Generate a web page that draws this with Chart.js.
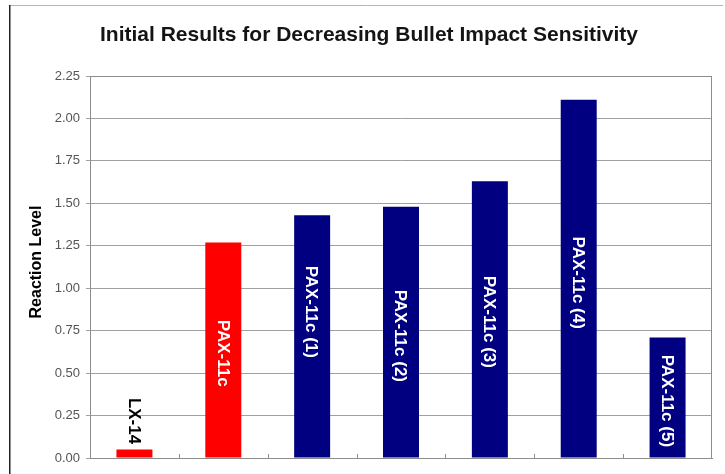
<!DOCTYPE html>
<html>
<head>
<meta charset="utf-8">
<script src="https://cdn.jsdelivr.net/npm/chart.js@4/dist/chart.umd.min.js"></script>
<style>
  html, body { margin: 0; padding: 0; background: #ffffff; }
  #c { display: block; }
</style>
</head>
<body>
<canvas id="c" width="725" height="474"></canvas>
<script>
// Formulations tested
const categories = ['LX-14', 'PAX-11c', 'PAX-11c (1)', 'PAX-11c (2)', 'PAX-11c (3)', 'PAX-11c (4)', 'PAX-11c (5)'];
// Measured reaction level for each formulation
const reactionLevel = [0.05, 1.27, 1.43, 1.48, 1.63, 2.11, 0.71];
// Value-axis tick marks
const yTicks = [0.00, 0.25, 0.50, 0.75, 1.00, 1.25, 1.50, 1.75, 2.00, 2.25];

// Layout: where each rotated bar caption starts, in reaction-level units
const captionStart = [0.354, 0.814, 1.133, 0.991, 1.074, 1.304, 0.608];

const FONT = "'Liberation Sans', Arial, sans-serif";
const RED = '#FF0000';
const NAVY = '#000080';

const framePlugin = {
  id: 'frame',
  beforeDraw(chart) {
    const ctx = chart.ctx;
    ctx.save();
    ctx.fillStyle = '#ffffff';
    ctx.fillRect(0, 0, chart.width, chart.height);
    // outer frame
    ctx.strokeStyle = '#b4b4b4';
    ctx.lineWidth = 1;
    ctx.beginPath();
    ctx.moveTo(10, 5.5);
    ctx.lineTo(723, 5.5);
    ctx.stroke();
    ctx.strokeStyle = '#222222';
    ctx.lineWidth = 1.5;
    ctx.beginPath();
    ctx.moveTo(9.75, 5);
    ctx.lineTo(9.75, chart.height);
    ctx.stroke();
    // chart title
    ctx.fillStyle = '#141414';
    ctx.font = 'bold 21px ' + FONT;
    ctx.textAlign = 'center';
    ctx.textBaseline = 'alphabetic';
    ctx.fillText('Initial Results for Decreasing Bullet Impact Sensitivity', 369, 41);
    // value-axis title
    ctx.save();
    ctx.translate(37, 262);
    ctx.rotate(-Math.PI / 2);
    ctx.fillStyle = '#000000';
    ctx.font = 'bold 16px ' + FONT;
    ctx.textBaseline = 'middle';
    ctx.fillText('Reaction Level', 0, 0);
    ctx.restore();
    ctx.restore();
  },
  afterDraw(chart) {
    const ctx = chart.ctx;
    const a = chart.chartArea;
    const xs = chart.scales.x;
    ctx.save();
    // plot-area box
    ctx.strokeStyle = '#8c8c8c';
    ctx.lineWidth = 1;
    ctx.strokeRect(Math.round(a.left) + 0.5, Math.round(a.top) + 0.5,
                   Math.round(a.right - a.left) - 1, Math.round(a.bottom - a.top));
    // short category-boundary ticks pointing into the plot
    ctx.beginPath();
    for (let i = 1; i < categories.length; i++) {
      const x = Math.round((xs.getPixelForValue(i - 1) + xs.getPixelForValue(i)) / 2) + 0.5;
      ctx.moveTo(x, a.bottom);
      ctx.lineTo(x, a.bottom - 4);
    }
    ctx.stroke();
    ctx.restore();
  },
  afterDatasetsDraw(chart) {
    const ctx = chart.ctx;
    const ys = chart.scales.y;
    const meta = chart.getDatasetMeta(0);
    ctx.save();
    ctx.font = 'bold 17px ' + FONT;
    ctx.textAlign = 'left';
    ctx.textBaseline = 'middle';
    meta.data.forEach((bar, i) => {
      const y = ys.getPixelForValue(captionStart[i]);
      ctx.save();
      ctx.translate(bar.x, y);
      ctx.rotate(Math.PI / 2);
      ctx.fillStyle = i === 0 ? '#000000' : '#ffffff';
      ctx.fillText(categories[i], 0, 1);
      ctx.restore();
    });
    ctx.restore();
  }
};

new Chart(document.getElementById('c'), {
  type: 'bar',
  data: {
    labels: categories,
    datasets: [{
      data: reactionLevel,
      backgroundColor: categories.map((c, i) => i < 2 ? RED : NAVY),
      borderWidth: 0,
      barPercentage: 0.405,
      categoryPercentage: 1.0
    }]
  },
  options: {
    responsive: false,
    animation: false,
    devicePixelRatio: 1,
    layout: { padding: { left: 0, right: 13, top: 76, bottom: 0 } },
    plugins: {
      legend: { display: false },
      tooltip: { enabled: false },
      title: { display: false }
    },
    scales: {
      x: {
        grid: { display: false },
        ticks: { display: false },
        border: { color: '#8c8c8c', width: 1 },
        afterFit(s) { s.height = 16; }
      },
      y: {
        min: 0,
        max: 2.25,
        afterBuildTicks(s) { s.ticks = yTicks.map(v => ({ value: v })); },
        ticks: {
          callback: v => Number(v).toFixed(2),
          color: '#555555',
          font: { family: FONT, size: 13 },
          padding: 6
        },
        grid: { color: '#a0a0a0', lineWidth: 1, tickLength: 4 },
        border: { color: '#8c8c8c', width: 1 },
        afterFit(s) { s.width = 90; }
      }
    }
  },
  plugins: [framePlugin]
});
</script>
</body>
</html>
